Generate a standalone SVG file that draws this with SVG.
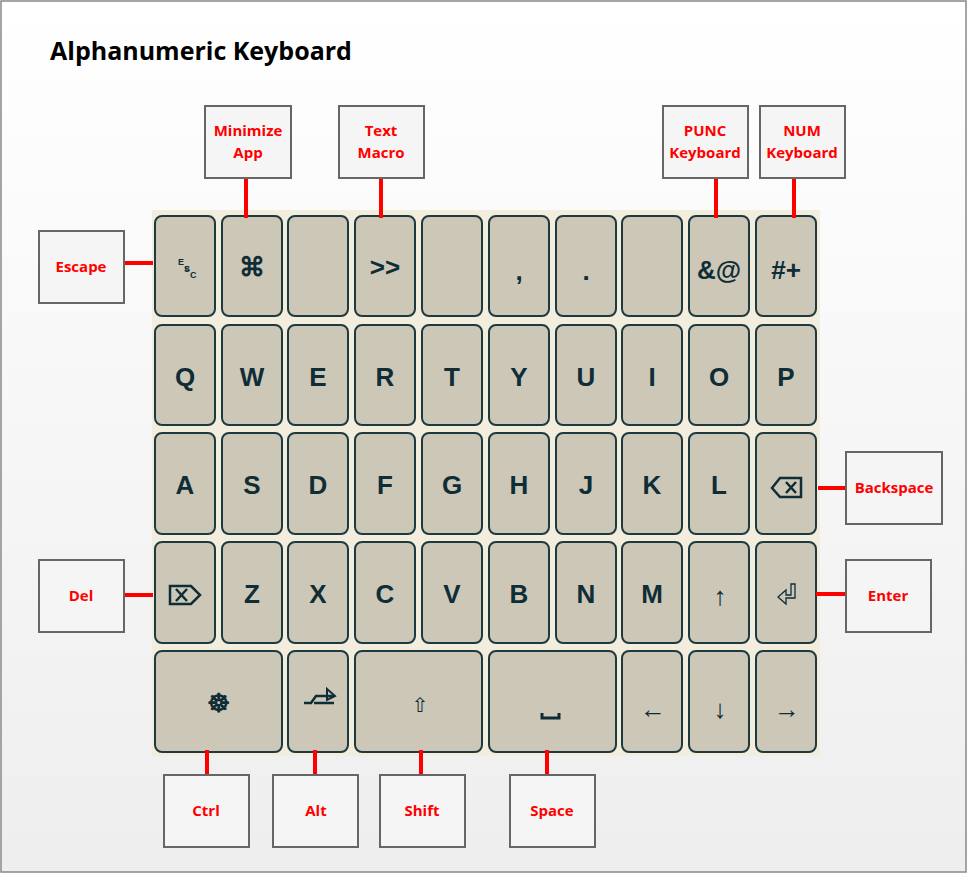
<svg xmlns="http://www.w3.org/2000/svg" width="967" height="873" viewBox="0 0 967 873">
<defs>
<linearGradient id="bg" x1="0" y1="0" x2="0" y2="1"><stop offset="0" stop-color="#ffffff"/><stop offset="1" stop-color="#eeeeee"/></linearGradient>
<style>
.k{fill:#cdc7b7;stroke:#1d3a40;stroke-width:2}
.kt{font-family:"Liberation Sans",Arial,sans-serif;font-weight:bold;font-size:26px;fill:#0f2d36;text-anchor:middle}
.lb{fill:#f5f5f5;stroke:#666;stroke-width:2}
.lt{font-family:"Open Sans","Liberation Sans",sans-serif;font-weight:bold;font-size:15px;fill:#ff0000;text-anchor:middle}
.c{stroke:#ff0000;stroke-width:4}
.ic{fill:none;stroke:#0f2d36;stroke-width:2.5}
</style>
</defs>
<rect x="1" y="1" width="965" height="871" fill="url(#bg)" stroke="#888" stroke-width="1.5"/>
<text x="50" y="60" font-family="Open Sans,Liberation Sans,sans-serif" font-weight="bold" font-size="25" fill="#000">Alphanumeric Keyboard</text>
<rect x="152" y="210" width="668" height="546" fill="#f3eddd"/>
<g id="keys">
<rect class="k" x="155" y="216" width="60" height="100" rx="7"/><text x="185" y="273" font-family="Liberation Sans,sans-serif" font-weight="bold" font-size="10" fill="#0f2d36">ᴱ</text>
<text x="178" y="265" font-family="Liberation Sans,sans-serif" font-weight="bold" font-size="9" fill="#0f2d36">E</text><text x="184" y="272" font-family="Liberation Sans,sans-serif" font-weight="bold" font-size="9" fill="#0f2d36">S</text><text x="190" y="278" font-family="Liberation Sans,sans-serif" font-weight="bold" font-size="9" fill="#0f2d36">C</text>
<rect class="k" x="222" y="216" width="60" height="100" rx="7"/><text class="kt" x="252" y="276" font-family="DejaVu Sans,sans-serif" font-size="22">⌘</text>
<rect class="k" x="288" y="216" width="60" height="100" rx="7"/>
<rect class="k" x="355" y="216" width="60" height="100" rx="7"/><text class="kt" x="385" y="276" font-size="22">&gt;&gt;</text>
<rect class="k" x="422" y="216" width="60" height="100" rx="7"/>
<rect class="k" x="489" y="216" width="60" height="100" rx="7"/><text class="kt" x="519" y="280">,</text>
<rect class="k" x="556" y="216" width="60" height="100" rx="7"/><text class="kt" x="586" y="280">.</text>
<rect class="k" x="622" y="216" width="60" height="100" rx="7"/>
<rect class="k" x="689" y="216" width="60" height="100" rx="7"/><text class="kt" x="719" y="279">&amp;@</text>
<rect class="k" x="756" y="216" width="60" height="100" rx="7"/><text class="kt" x="786" y="279">#+</text>

<rect class="k" x="155" y="325" width="60" height="100" rx="7"/><text class="kt" x="185" y="386">Q</text>
<rect class="k" x="222" y="325" width="60" height="100" rx="7"/><text class="kt" x="252" y="386">W</text>
<rect class="k" x="288" y="325" width="60" height="100" rx="7"/><text class="kt" x="318" y="386">E</text>
<rect class="k" x="355" y="325" width="60" height="100" rx="7"/><text class="kt" x="385" y="386">R</text>
<rect class="k" x="422" y="325" width="60" height="100" rx="7"/><text class="kt" x="452" y="386">T</text>
<rect class="k" x="489" y="325" width="60" height="100" rx="7"/><text class="kt" x="519" y="386">Y</text>
<rect class="k" x="556" y="325" width="60" height="100" rx="7"/><text class="kt" x="586" y="386">U</text>
<rect class="k" x="622" y="325" width="60" height="100" rx="7"/><text class="kt" x="652" y="386">I</text>
<rect class="k" x="689" y="325" width="60" height="100" rx="7"/><text class="kt" x="719" y="386">O</text>
<rect class="k" x="756" y="325" width="60" height="100" rx="7"/><text class="kt" x="786" y="386">P</text>

<rect class="k" x="155" y="433" width="60" height="101" rx="7"/><text class="kt" x="185" y="494">A</text>
<rect class="k" x="222" y="433" width="60" height="101" rx="7"/><text class="kt" x="252" y="494">S</text>
<rect class="k" x="288" y="433" width="60" height="101" rx="7"/><text class="kt" x="318" y="494">D</text>
<rect class="k" x="355" y="433" width="60" height="101" rx="7"/><text class="kt" x="385" y="494">F</text>
<rect class="k" x="422" y="433" width="60" height="101" rx="7"/><text class="kt" x="452" y="494">G</text>
<rect class="k" x="489" y="433" width="60" height="101" rx="7"/><text class="kt" x="519" y="494">H</text>
<rect class="k" x="556" y="433" width="60" height="101" rx="7"/><text class="kt" x="586" y="494">J</text>
<rect class="k" x="622" y="433" width="60" height="101" rx="7"/><text class="kt" x="652" y="494">K</text>
<rect class="k" x="689" y="433" width="60" height="101" rx="7"/><text class="kt" x="719" y="494">L</text>
<rect class="k" x="756" y="433" width="60" height="101" rx="7"/>
<path class="ic" d="M772,488 L780,478 H801 V497 H780 Z M786,482 L796,493 M796,482 L786,493"/>

<rect class="k" x="155" y="542" width="60" height="101" rx="7"/>
<path class="ic" d="M170,586 H191 L200,595 L191,604 H170 Z M176,589 L187,601 M187,589 L176,601"/>
<rect class="k" x="222" y="542" width="60" height="101" rx="7"/><text class="kt" x="252" y="603">Z</text>
<rect class="k" x="288" y="542" width="60" height="101" rx="7"/><text class="kt" x="318" y="603">X</text>
<rect class="k" x="355" y="542" width="60" height="101" rx="7"/><text class="kt" x="385" y="603">C</text>
<rect class="k" x="422" y="542" width="60" height="101" rx="7"/><text class="kt" x="452" y="603">V</text>
<rect class="k" x="489" y="542" width="60" height="101" rx="7"/><text class="kt" x="519" y="603">B</text>
<rect class="k" x="556" y="542" width="60" height="101" rx="7"/><text class="kt" x="586" y="603">N</text>
<rect class="k" x="622" y="542" width="60" height="101" rx="7"/><text class="kt" x="652" y="603">M</text>
<rect class="k" x="689" y="542" width="60" height="101" rx="7"/><text class="kt" x="720" y="605" font-family="DejaVu Sans,sans-serif">↑</text>
<rect class="k" x="756" y="542" width="60" height="101" rx="7"/>
<path d="M795,584 V598 H786 V604 L778,597 L786,590 V595 H791 V584 Z" fill="none" stroke="#0f2d36" stroke-width="1.3"/>

<rect class="k" x="155" y="651" width="127" height="101" rx="7"/><text class="kt" x="218" y="712" font-family="DejaVu Sans,sans-serif" font-size="26">☸</text>
<rect class="k" x="288" y="651" width="60" height="101" rx="7"/>
<path class="ic" d="M304,703 H311 L316,696 H334 M314,703 H334" stroke-width="2.2"/><path d="M327,689 L335,696 L327,700 Z" fill="none" stroke="#0f2d36" stroke-width="2"/>
<rect class="k" x="355" y="651" width="127" height="101" rx="7"/><text x="420" y="712" text-anchor="middle" font-family="DejaVu Sans,sans-serif" font-size="20" fill="#0f2d36">⇧</text>
<rect class="k" x="489" y="651" width="127" height="101" rx="7"/>
<path d="M542,713 V718 H559 V713" fill="none" stroke="#0f2d36" stroke-width="3"/>
<rect class="k" x="622" y="651" width="60" height="101" rx="7"/><text class="kt" x="653" y="718" font-family="DejaVu Sans,sans-serif">←</text>
<rect class="k" x="689" y="651" width="60" height="101" rx="7"/><text class="kt" x="720" y="718" font-family="DejaVu Sans,sans-serif">↓</text>
<rect class="k" x="756" y="651" width="60" height="101" rx="7"/><text class="kt" x="787" y="718" font-family="DejaVu Sans,sans-serif">→</text>
</g>
<g id="connectors">
<line class="c" x1="124" y1="263" x2="153" y2="263"/>
<line class="c" x1="246" y1="178" x2="246" y2="218"/>
<line class="c" x1="381" y1="178" x2="381" y2="218"/>
<line class="c" x1="716" y1="178" x2="716" y2="218"/>
<line class="c" x1="794" y1="178" x2="794" y2="218"/>
<line class="c" x1="818" y1="488" x2="847" y2="488"/>
<line class="c" x1="124" y1="595" x2="153" y2="595"/>
<line class="c" x1="816" y1="594" x2="846" y2="594"/>
<line class="c" x1="207" y1="750" x2="207" y2="775"/>
<line class="c" x1="315" y1="750" x2="315" y2="775"/>
<line class="c" x1="421" y1="750" x2="421" y2="775"/>
<line class="c" x1="547" y1="750" x2="547" y2="775"/>
</g>
<g id="escape"><rect class="lb" x="39" y="231" width="85" height="72"/><text class="lt" x="81" y="272">Escape</text></g>
<g id="minimize"><rect class="lb" x="205" y="106" width="86" height="72"/><text class="lt" x="248" y="136">Minimize</text><text class="lt" x="248" y="158">App</text></g>
<g id="macro"><rect class="lb" x="339" y="106" width="85" height="72"/><text class="lt" x="381" y="136">Text</text><text class="lt" x="381" y="158">Macro</text></g>
<g id="punc"><rect class="lb" x="663" y="106" width="85" height="72"/><text class="lt" x="705" y="136">PUNC</text><text class="lt" x="705" y="158">Keyboard</text></g>
<g id="num"><rect class="lb" x="760" y="106" width="85" height="72"/><text class="lt" x="802" y="136">NUM</text><text class="lt" x="802" y="158">Keyboard</text></g>
<g id="backspace"><rect class="lb" x="846" y="452" width="96" height="72"/><text class="lt" x="894" y="493">Backspace</text></g>
<g id="del"><rect class="lb" x="39" y="560" width="85" height="72"/><text class="lt" x="81" y="601">Del</text></g>
<g id="enter"><rect class="lb" x="846" y="560" width="85" height="72"/><text class="lt" x="888" y="601">Enter</text></g>
<g id="ctrl"><rect class="lb" x="164" y="775" width="85" height="72"/><text class="lt" x="206" y="816">Ctrl</text></g>
<g id="alt"><rect class="lb" x="273" y="775" width="85" height="72"/><text class="lt" x="316" y="816">Alt</text></g>
<g id="shift"><rect class="lb" x="380" y="775" width="85" height="72"/><text class="lt" x="422" y="816">Shift</text></g>
<g id="space"><rect class="lb" x="510" y="775" width="85" height="72"/><text class="lt" x="552" y="816">Space</text></g>
</svg>
